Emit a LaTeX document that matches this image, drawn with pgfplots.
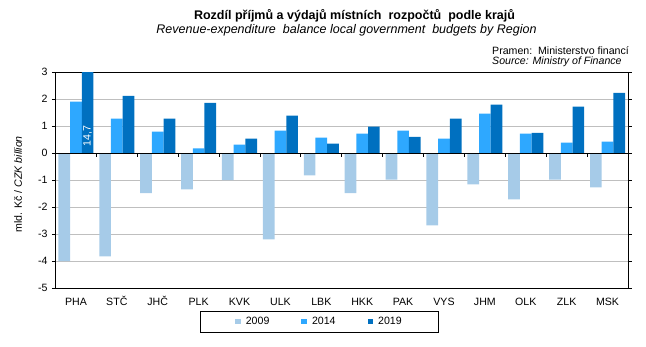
\documentclass[border=0pt]{standalone}
\usepackage{pgfplots}
\pgfplotsset{compat=1.18}
\usepackage{fontspec}
\setmainfont{Liberation Sans}
\definecolor{cA}{HTML}{A6CBE8}
\definecolor{cB}{HTML}{2EA8FF}
\definecolor{cC}{HTML}{0070C0}
\definecolor{gridc}{HTML}{BFBFBF}
\newcommand{\sm}{\fontsize{10.6bp}{12bp}\selectfont}
\begin{document}
\begin{tikzpicture}[x=1bp,y=1bp]
\path[use as bounding box] (-55.5,-58) rectangle (590.5,288);
\begin{axis}[
  at={(0,0)}, anchor=south west,
  scale only axis, width=572.5bp, height=216bp,
  ymin=-5, ymax=3, xmin=-0.5, xmax=13.5,
  ytick={-5,-4,-3,-2,-1,0,1,2,3},
  xtick={0,1,2,3,4,5,6,7,8,9,10,11,12,13},
  xticklabels={PHA,STČ,JHČ,PLK,KVK,ULK,LBK,HKK,PAK,VYS,JHM,OLK,ZLK,MSK},
  /pgf/number format/assume math mode=true,
  ticklabel style={font=\sm},
  x tick style={draw=none},
  y tick style={black},
  tick align=outside,
  major tick length=3.5bp,
  xticklabel style={yshift=-2bp, text height=8bp, text depth=1bp},
  yticklabel style={xshift=-1bp},
  ymajorgrids, grid style={gridc, line width=0.8bp},
  axis line style={black, line width=0.8bp},
  ybar, bar width=0.286,
  ylabel={mld. Kč / \textit{CZK billion}},
  ylabel style={font=\sm, at={(axis description cs:-0.0655,0.48)}, anchor=center},
  legend columns=3,
  legend style={at={(264/572.5,-34/216)}, anchor=center, draw=black, line width=0.8bp,
    font=\sm, inner xsep=35bp, inner ysep=4bp,
    /tikz/every odd column/.append style={column sep=3bp},
    /tikz/every even column/.append style={column sep=30bp}},
  legend image code/.code={\fill[#1] (0bp,-2.3bp) rectangle (5.6bp,3.3bp);},
]
\addplot[fill=cA, draw=none, bar shift=-0.286] coordinates {
 (0,-4.00) (1,-3.83) (2,-1.49) (3,-1.35) (4,-1.00) (5,-3.20) (6,-0.83)
 (7,-1.49) (8,-0.99) (9,-2.68) (10,-1.16) (11,-1.72) (12,-0.99) (13,-1.27)};
\addplot[fill=cB, draw=none, bar shift=0] coordinates {
 (0,1.90) (1,1.27) (2,0.79) (3,0.17) (4,0.31) (5,0.83) (6,0.57)
 (7,0.72) (8,0.83) (9,0.53) (10,1.46) (11,0.72) (12,0.38) (13,0.42)};
\addplot[fill=cC, draw=none, bar shift=0.286] coordinates {
 (0,14.7) (1,2.12) (2,1.27) (3,1.86) (4,0.53) (5,1.38) (6,0.35)
 (7,0.98) (8,0.60) (9,1.27) (10,1.79) (11,0.75) (12,1.72) (13,2.23)};
\legend{2009,2014,2019}
\draw[black, line width=0.8bp] (axis cs:-0.5,0) -- (axis cs:13.5,0);
\pgfplotsinvokeforeach{0.5,1.5,2.5,3.5,4.5,5.5,6.5,7.5,8.5,9.5,10.5,11.5,12.5}{
  \draw[black, line width=0.8bp] (axis cs:#1,0) -- ([yshift=-3.5bp]axis cs:#1,0);
}
\node[rotate=90, text=white, font=\sm, inner sep=0pt] at (axis cs:0.286,0.64) {14,7};
\end{axis}
\node[anchor=base, font=\fontsize{12.5bp}{14bp}\selectfont\bfseries] at (299,269) {Rozdíl příjmů a výdajů místních\ \ rozpočtů\ \ podle krajů};
\node[anchor=base, font=\fontsize{12.5bp}{14bp}\selectfont\itshape] at (291,255) {Revenue-expenditure\ \ balance local government\ \ budgets by Region};
\node[anchor=base west, font=\sm, inner sep=0pt] at (436.5,234) {Pramen:\ \ Ministerstvo financí};
\node[anchor=base west, font=\sm, inner sep=0pt] at (436.5,223.3) {\textit{Source: Ministry of Finance}};
\end{tikzpicture}
\end{document}
